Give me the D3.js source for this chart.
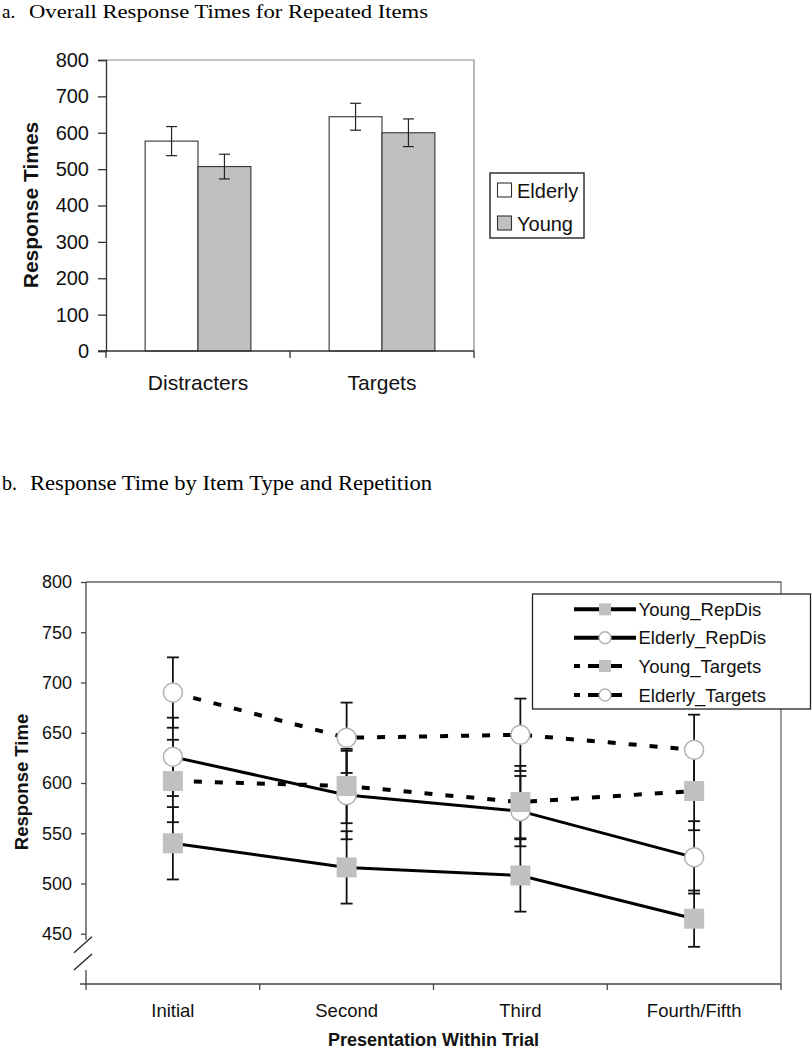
<!DOCTYPE html>
<html>
<head>
<meta charset="utf-8">
<script src="https://cdn.jsdelivr.net/npm/d3@7"></script>
<style>
  html, body { margin: 0; padding: 0; background: #fff; }
  svg { display: block; }
  .sans { font-family: "Liberation Sans", Arial, sans-serif; }
  .serif { font-family: "Liberation Serif", "Times New Roman", serif; }
</style>
</head>
<body>
<svg id="chart" width="812" height="1050"></svg>
<script>
// ---------- Data: panel a ----------
const categoriesA = ["Distracters", "Targets"];
const groupsA = ["Elderly", "Young"];
const elderlyA = [577, 644];
const youngA = [507, 600];
const elderlyErrA = [40, 37];
const youngErrA = [34, 38];
const yTicksA = [0, 100, 200, 300, 400, 500, 600, 700, 800];

// ---------- Data: panel b ----------
const categoriesB = ["Initial", "Second", "Third", "Fourth/Fifth"];
const seriesNamesB = ["Young_RepDis", "Elderly_RepDis", "Young_Targets", "Elderly_Targets"];
const youngRepDis = [540, 516, 508, 465];
const youngRepDisErr = [36, 36, 36, 28];
const elderlyRepDis = [626, 588, 572, 526];
const elderlyRepDisErr = [39, 44, 35, 36];
const youngTargets = [602, 597, 581, 592];
const youngTargetsErr = [41, 37, 36, 39];
const elderlyTargets = [690, 645, 648, 633];
const elderlyTargetsErr = [35, 35, 36, 35];
const yTicksB = [450, 500, 550, 600, 650, 700, 750, 800];

const svg = d3.select("#chart");

// ================= Panel a =================
svg.append("text").attr("class", "serif").attr("x", 2).attr("y", 18)
  .attr("font-size", 19).text("a.");
svg.append("text").attr("class", "serif").attr("x", 29).attr("y", 18)
  .attr("font-size", 19).attr("textLength", 399).attr("lengthAdjust", "spacingAndGlyphs")
  .text("Overall Response Times for Repeated Items");

const A = { left: 106, right: 474, top: 60, bottom: 351 };
const yA = d3.scaleLinear().domain([0, 800]).range([A.bottom, A.top]);
const x0A = d3.scaleBand().domain(categoriesA).range([A.left, A.right]).padding(0);
const x1A = d3.scaleBand().domain(groupsA).range([0, x0A.bandwidth()]).paddingInner(0).paddingOuter(0.74);
const fillA = { Elderly: "#ffffff", Young: "#c0c0c0" };

// plot frame (top & right)
const gA = svg.append("g");
gA.append("path")
  .attr("d", `M${A.left},${A.top}H${A.right}V${A.bottom}`)
  .attr("fill", "none").attr("stroke", "#8c8c8c").attr("stroke-width", 1.2);

const rowsA = categoriesA.map((c, i) => ({
  cat: c,
  vals: [
    { g: "Elderly", v: elderlyA[i], e: elderlyErrA[i] },
    { g: "Young", v: youngA[i], e: youngErrA[i] }
  ]
}));

const barG = gA.selectAll("g.cat").data(rowsA).join("g")
  .attr("transform", d => `translate(${x0A(d.cat)},0)`);
barG.selectAll("rect").data(d => d.vals).join("rect")
  .attr("x", d => x1A(d.g)).attr("width", x1A.bandwidth())
  .attr("y", d => yA(d.v)).attr("height", d => yA(0) - yA(d.v))
  .attr("fill", d => fillA[d.g]).attr("stroke", "#333").attr("stroke-width", 1.1);
// error bars
barG.selectAll("g.err").data(d => d.vals).join("g").each(function(d) {
  const cx = x1A(d.g) + x1A.bandwidth() / 2;
  const g = d3.select(this);
  g.append("line").attr("x1", cx).attr("x2", cx).attr("y1", yA(d.v + d.e)).attr("y2", yA(d.v - d.e))
    .attr("stroke", "#222").attr("stroke-width", 1.2);
  [d.v + d.e, d.v - d.e].forEach(v => {
    g.append("line").attr("x1", cx - 5.5).attr("x2", cx + 5.5).attr("y1", yA(v)).attr("y2", yA(v))
      .attr("stroke", "#222").attr("stroke-width", 1.2);
  });
});

// y axis a
const yAxisA = d3.axisLeft(yA).tickValues(yTicksA).tickSize(8).tickPadding(9);
const gyA = svg.append("g").attr("transform", `translate(${A.left},0)`).call(yAxisA);
gyA.select(".domain").attr("stroke", "#333").attr("stroke-width", 1.3);
gyA.selectAll(".tick line").attr("stroke", "#333").attr("stroke-width", 1.3);
gyA.selectAll(".tick text").attr("font-size", 20).attr("fill", "#111")
  .attr("font-family", "Liberation Sans, Arial, sans-serif");

// x axis a
const gxA = svg.append("g");
gxA.append("line").attr("x1", A.left - 8).attr("x2", A.right).attr("y1", A.bottom).attr("y2", A.bottom)
  .attr("stroke", "#333").attr("stroke-width", 1.3);
const tickXA = categoriesA.map(c => x0A(c)).concat([A.right]);
gxA.selectAll("line.t").data(tickXA).join("line").attr("class", "t")
  .attr("x1", d => d).attr("x2", d => d).attr("y1", A.bottom).attr("y2", A.bottom + 7)
  .attr("stroke", "#333").attr("stroke-width", 1.3);
gxA.selectAll("text").data(categoriesA).join("text")
  .attr("class", "sans").attr("x", d => x0A(d) + x0A.bandwidth() / 2).attr("y", 390)
  .attr("text-anchor", "middle").attr("font-size", 21).attr("fill", "#111").text(d => d);

// y title a
svg.append("text").attr("class", "sans")
  .attr("transform", `translate(38,205) rotate(-90)`)
  .attr("text-anchor", "middle").attr("font-size", 21).attr("font-weight", "bold").attr("fill", "#111")
  .text("Response Times");

// legend a
const legA = svg.append("g");
legA.append("rect").attr("x", 490).attr("y", 173).attr("width", 94).attr("height", 65)
  .attr("fill", "#fff").attr("stroke", "#333").attr("stroke-width", 1.5);
groupsA.forEach((g, i) => {
  const cy = 190 + i * 33;
  legA.append("rect").attr("x", 497.5).attr("y", cy - 7).attr("width", 14).attr("height", 14)
    .attr("fill", fillA[g]).attr("stroke", "#333").attr("stroke-width", 1.1);
  legA.append("text").attr("class", "sans").attr("x", 517).attr("y", cy + 7.5)
    .attr("font-size", 20).attr("fill", "#111").text(g);
});

// ================= Panel b =================
svg.append("text").attr("class", "serif").attr("x", 2).attr("y", 490)
  .attr("font-size", 20).text("b.");
svg.append("text").attr("class", "serif").attr("x", 30).attr("y", 490)
  .attr("font-size", 20).attr("textLength", 402).attr("lengthAdjust", "spacingAndGlyphs")
  .text("Response Time by Item Type and Repetition");

const B = { left: 86, right: 781, top: 582, bottom: 984 };
const yB = d3.scaleLinear().domain([400, 800]).range([B.bottom, B.top]);
const xB = d3.scalePoint().domain(categoriesB).range([B.left, B.right]).padding(0.5);

// frame top & right
svg.append("path").attr("d", `M${B.left},${B.top}H${B.right}V${B.bottom}`)
  .attr("fill", "none").attr("stroke", "#666").attr("stroke-width", 1.3);

// y axis b (with break)
const yAxisB = d3.axisLeft(yB).tickValues(yTicksB).tickSize(5).tickPadding(9);
const gyB = svg.append("g").attr("transform", `translate(${B.left},0)`).call(yAxisB);
gyB.select(".domain").remove();
gyB.selectAll(".tick line").attr("stroke", "#444").attr("stroke-width", 1.3);
gyB.selectAll(".tick text").attr("font-size", 18).attr("fill", "#111")
  .attr("font-family", "Liberation Sans, Arial, sans-serif");
svg.append("line").attr("x1", B.left).attr("x2", B.left).attr("y1", B.top).attr("y2", 940)
  .attr("stroke", "#444").attr("stroke-width", 1.3);
svg.append("line").attr("x1", B.left).attr("x2", B.left).attr("y1", 970).attr("y2", B.bottom)
  .attr("stroke", "#444").attr("stroke-width", 1.3);
// break marks
[[74, 952.7, 92, 936.7], [74, 970, 92, 954]].forEach(s => {
  svg.append("line").attr("x1", s[0]).attr("y1", s[1]).attr("x2", s[2]).attr("y2", s[3])
    .attr("stroke", "#222").attr("stroke-width", 1.3);
});

// x axis b
svg.append("line").attr("x1", B.left - 6).attr("x2", B.right).attr("y1", B.bottom).attr("y2", B.bottom)
  .attr("stroke", "#444").attr("stroke-width", 1.3);
const stepB = xB.step();
const tickXB = categoriesB.map(c => xB(c) - stepB / 2).concat([B.right]);
svg.selectAll("line.xtb").data(tickXB).join("line").attr("class", "xtb")
  .attr("x1", d => d).attr("x2", d => d).attr("y1", B.bottom).attr("y2", B.bottom + 6)
  .attr("stroke", "#444").attr("stroke-width", 1.3);
svg.selectAll("text.xlb").data(categoriesB).join("text").attr("class", "xlb sans")
  .attr("x", d => xB(d)).attr("y", 1017).attr("text-anchor", "middle")
  .attr("font-size", 18.5).attr("fill", "#111").text(d => d);

// axis titles b
svg.append("text").attr("class", "sans").attr("x", (B.left + B.right) / 2).attr("y", 1046)
  .attr("text-anchor", "middle").attr("font-size", 18).attr("font-weight", "bold").attr("fill", "#111")
  .text("Presentation Within Trial");
svg.append("text").attr("class", "sans")
  .attr("transform", `translate(28,782) rotate(-90)`)
  .attr("text-anchor", "middle").attr("font-size", 18.5).attr("font-weight", "bold").attr("fill", "#111")
  .text("Response Time");

const seriesB = [
  { name: seriesNamesB[0], vals: youngRepDis, errs: youngRepDisErr, marker: "square", dashed: false },
  { name: seriesNamesB[1], vals: elderlyRepDis, errs: elderlyRepDisErr, marker: "circle", dashed: false },
  { name: seriesNamesB[2], vals: youngTargets, errs: youngTargetsErr, marker: "square", dashed: true },
  { name: seriesNamesB[3], vals: elderlyTargets, errs: elderlyTargetsErr, marker: "circle", dashed: true }
];

// error bars first
const errG = svg.append("g");
seriesB.forEach(s => {
  s.vals.forEach((v, i) => {
    const cx = xB(categoriesB[i]);
    errG.append("line").attr("x1", cx).attr("x2", cx).attr("y1", yB(v + s.errs[i])).attr("y2", yB(v - s.errs[i]))
      .attr("stroke", "#111").attr("stroke-width", 1.8);
    [v + s.errs[i], v - s.errs[i]].forEach(e => {
      errG.append("line").attr("x1", cx - 6).attr("x2", cx + 6).attr("y1", yB(e)).attr("y2", yB(e))
        .attr("stroke", "#111").attr("stroke-width", 1.8);
    });
  });
});

const lineGen = d3.line().x((d, i) => xB(categoriesB[i])).y(d => yB(d));
const dashArr = "8 13";
function drawMarker(g, type, cx, cy, big) {
  if (type === "square") {
    const s = big ? 20 : 12;
    g.append("rect").attr("x", cx - s / 2).attr("y", cy - s / 2).attr("width", s).attr("height", s)
      .attr("fill", "#c0c0c0");
  } else {
    g.append("circle").attr("cx", cx).attr("cy", cy).attr("r", big ? 9.5 : 6)
      .attr("fill", "#fff").attr("stroke", "#b3b3b3").attr("stroke-width", 1.5);
  }
}
seriesB.forEach(s => {
  const g = svg.append("g");
  g.append("path").attr("d", lineGen(s.vals)).attr("fill", "none").attr("stroke", "#000")
    .attr("stroke-width", s.dashed ? 4 : 3)
    .attr("stroke-dasharray", s.dashed ? dashArr : null);
  s.vals.forEach((v, i) => drawMarker(g, s.marker, xB(categoriesB[i]), yB(v), true));
});

// legend b
const legB = svg.append("g");
legB.append("rect").attr("x", 532.5).attr("y", 594).attr("width", 278).attr("height", 115)
  .attr("fill", "#fff").attr("stroke", "#222").attr("stroke-width", 1.3);
const rowY = [609.3, 637.7, 666, 695];
seriesB.forEach((s, i) => {
  const cy = rowY[i];
  if (s.dashed) {
    [[574, 580], [588, 600], [610, 622]].forEach(seg => {
      legB.append("line").attr("x1", seg[0]).attr("x2", seg[1]).attr("y1", cy).attr("y2", cy)
        .attr("stroke", "#000").attr("stroke-width", 4);
    });
  } else {
    legB.append("line").attr("x1", 574).attr("x2", 636).attr("y1", cy).attr("y2", cy)
      .attr("stroke", "#000").attr("stroke-width", 4);
  }
  drawMarker(legB, s.marker, 605, cy, false);
  legB.append("text").attr("class", "sans").attr("x", 638.5).attr("y", cy + 6.5)
    .attr("font-size", 18.5).attr("fill", "#111").text(s.name);
});
</script>
</body>
</html>
